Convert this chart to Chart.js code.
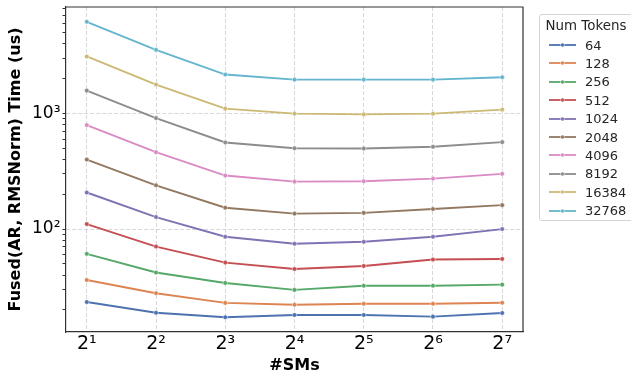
<!DOCTYPE html>
<html>
<head>
<meta charset="utf-8">
<script src="https://cdn.jsdelivr.net/npm/chart.js@4.4.1/dist/chart.umd.min.js"></script>
<style>
  html, body { margin: 0; padding: 0; background: #fff; overflow: hidden; }
  #wrap { position: relative; width: 631px; height: 372px; }
  #legend {
    position: absolute; left: 538.5px; top: 14.3px; width: 104px; height: 207px;
    border: 1px solid #d4d4d4; border-radius: 3px; background: rgba(255,255,255,0.85);
    font-family: "DejaVu Sans", sans-serif; color: #262626; box-sizing: border-box;
  }
  #legend .ttl { position: absolute; left: 6px; top: 2.5px; font-size: 13.4px; line-height: 16px; white-space: nowrap; }
  #legend .row { position: absolute; left: 9.5px; height: 18px; display: flex; align-items: center; font-size: 13px; white-space: nowrap; }
  #legend svg { margin-right: 9px; }
</style>
</head>
<body>
<div id="wrap">
  <canvas id="chart" width="631" height="372"></canvas>
  <div id="legend"></div>
</div>
<script>
/*------------------
   Data
--------------------*/
var smCounts = [2, 4, 8, 16, 32, 64, 128];
var numTokens = ["64", "128", "256", "512", "1024", "2048", "4096", "8192", "16384", "32768"];

var t64    = [23.4, 18.9, 17.3, 18.1, 18.1, 17.5, 18.8];
var t128   = [36.3, 27.9, 23.0, 22.2, 22.6, 22.6, 23.1];
var t256   = [61.1, 42.1, 34.2, 29.8, 32.4, 32.4, 33.1];
var t512   = [110.5, 70.6, 51.3, 45.2, 48.0, 54.5, 55.2];
var t1024  = [207, 127, 85.8, 74.6, 77.6, 85.8, 100];
var t2048  = [399, 239, 153, 136, 138, 149, 161];
var t4096  = [792, 462, 290, 257, 259, 273, 300];
var t8192  = [1574, 910, 560, 500, 497, 514, 564];
var t16384 = [3105, 1775, 1098, 994, 980, 994, 1077];
var t32768 = [6190, 3540, 2166, 1958, 1958, 1958, 2051];

var xTickLabels = ["2¹", "2²", "2³", "2⁴", "2⁵", "2⁶", "2⁷"];
var yMajorTicks = [100, 1000];
var yMajorLabels = ["10²", "10³"];
var yMinorTicks = [20, 30, 40, 50, 60, 70, 80, 90, 200, 300, 400, 500, 600, 700, 800, 900,
                   2000, 3000, 4000, 5000, 6000, 7000, 8000];

var series = [t64, t128, t256, t512, t1024, t2048, t4096, t8192, t16384, t32768];
var colors = ["#4c72b0", "#dd8452", "#55a868", "#c44e52", "#8172b3",
              "#937860", "#da8bc3", "#8c8c8c", "#ccb974", "#64b5cd"];

/*------------------
   Axis limits (5% log margins, like matplotlib)
--------------------*/
var allVals = [].concat.apply([], series);
var lo = Math.log10(Math.min.apply(null, allVals));
var hi = Math.log10(Math.max.apply(null, allVals));
var yMin = Math.pow(10, lo - 0.05 * (hi - lo));
var yMax = Math.pow(10, hi + 0.05 * (hi - lo));
var xlo = Math.log2(smCounts[0]), xhi = Math.log2(smCounts[smCounts.length - 1]);
var xMin = Math.pow(2, xlo - 0.05 * (xhi - xlo));
var xMax = Math.pow(2, xhi + 0.05 * (xhi - xlo));

Chart.defaults.font.family = "'DejaVu Sans', sans-serif";

var datasets = series.map(function (vals, i) {
  return {
    label: numTokens[i],
    data: vals.map(function (v, j) { return {x: smCounts[j], y: v}; }),
    borderColor: colors[i],
    backgroundColor: colors[i],
    borderWidth: 1.9,
    pointRadius: 2.3,
    pointBorderColor: "#fff",
    pointBorderWidth: 0.5,
    tension: 0
  };
});

var gridColor = "rgba(176,176,176,0.55)";
var spineColor = "#333";

var boxPlugin = {
  id: "boxPlugin",
  afterDraw: function (chart) {
    var a = chart.chartArea, ctx = chart.ctx;
    ctx.save();
    ctx.strokeStyle = spineColor;
    ctx.lineWidth = 1.2;
    ctx.beginPath();
    ctx.moveTo(a.left, a.top);
    ctx.lineTo(a.right, a.top);
    ctx.lineTo(a.right, a.bottom);
    ctx.stroke();
    ctx.restore();
  }
};

function noPad(s) {
  s.paddingTop = 0; s.paddingBottom = 0; s.paddingLeft = 0; s.paddingRight = 0;
}

var chart = new Chart(document.getElementById("chart"), {
  type: "line",
  data: {datasets: datasets},
  plugins: [boxPlugin],
  options: {
    responsive: false,
    animation: false,
    layout: {padding: {top: 7, right: 108, left: 0, bottom: 0}},
    plugins: {legend: {display: false}, tooltip: {enabled: false}},
    scales: {
      x: {
        type: "logarithmic",
        min: xMin, max: xMax, bounds: "data",
        afterBuildTicks: function (axis) {
          axis.ticks = smCounts.map(function (v) { return {value: v}; });
        },
        afterFit: function (s) { s.height = 40; noPad(s); },
        ticks: {
          autoSkip: false, maxRotation: 0, padding: 1, color: "#000",
          font: {size: 19},
          callback: function (v) {
            var i = smCounts.indexOf(v);
            return i >= 0 ? xTickLabels[i] : "";
          }
        },
        grid: {color: gridColor, lineWidth: 0.9, drawTicks: false},
        border: {color: spineColor, width: 1.2, dash: [4, 2]},
        title: {display: true, text: "#SMs", color: "#000",
                font: {size: 16, weight: "bold", lineHeight: 1}, padding: {top: 0, bottom: -2}}
      },
      y: {
        type: "logarithmic",
        min: yMin, max: yMax, bounds: "data",
        afterBuildTicks: function (axis) {
          axis.ticks = yMinorTicks.concat(yMajorTicks).sort(function (a, b) { return a - b; })
            .map(function (v) { return {value: v}; });
        },
        afterFit: function (s) { s.width = 66; noPad(s); },
        ticks: {
          autoSkip: false, padding: 2, color: "#000",
          font: {size: 17},
          callback: function (v) {
            var i = yMajorTicks.indexOf(v);
            return i >= 0 ? yMajorLabels[i] : "";
          }
        },
        grid: {
          color: function (ctx) {
            return ctx.tick && yMajorTicks.indexOf(ctx.tick.value) >= 0 ? gridColor : "rgba(0,0,0,0)";
          },
          lineWidth: 0.9, tickColor: spineColor, tickLength: 3.5, tickWidth: 1
        },
        border: {color: spineColor, width: 1.2, dash: [4, 2]},
        title: {display: true, text: "Fused(AR, RMSNorm) Time (us)", color: "#000",
                font: {size: 16, weight: "bold", lineHeight: 1}, padding: {top: 8, bottom: 0}}
      }
    }
  }
});

/*------------------
   Legend
--------------------*/
var legend = document.getElementById("legend");
var html = '<div class="ttl">Num Tokens</div>';
numTokens.forEach(function (n, i) {
  var top = 20.8 + 18.4 * i;
  html += '<div class="row" style="top:' + top + 'px">' +
    '<svg width="27" height="8"><line x1="0" y1="4" x2="27" y2="4" stroke="' + colors[i] + '" stroke-width="1.8"/>' +
    '<circle cx="13.5" cy="4" r="2" fill="' + colors[i] + '" stroke="#fff" stroke-width="0.5"/></svg>' +
    '<span>' + n + '</span></div>';
});
legend.innerHTML = html;
</script>
</body>
</html>
